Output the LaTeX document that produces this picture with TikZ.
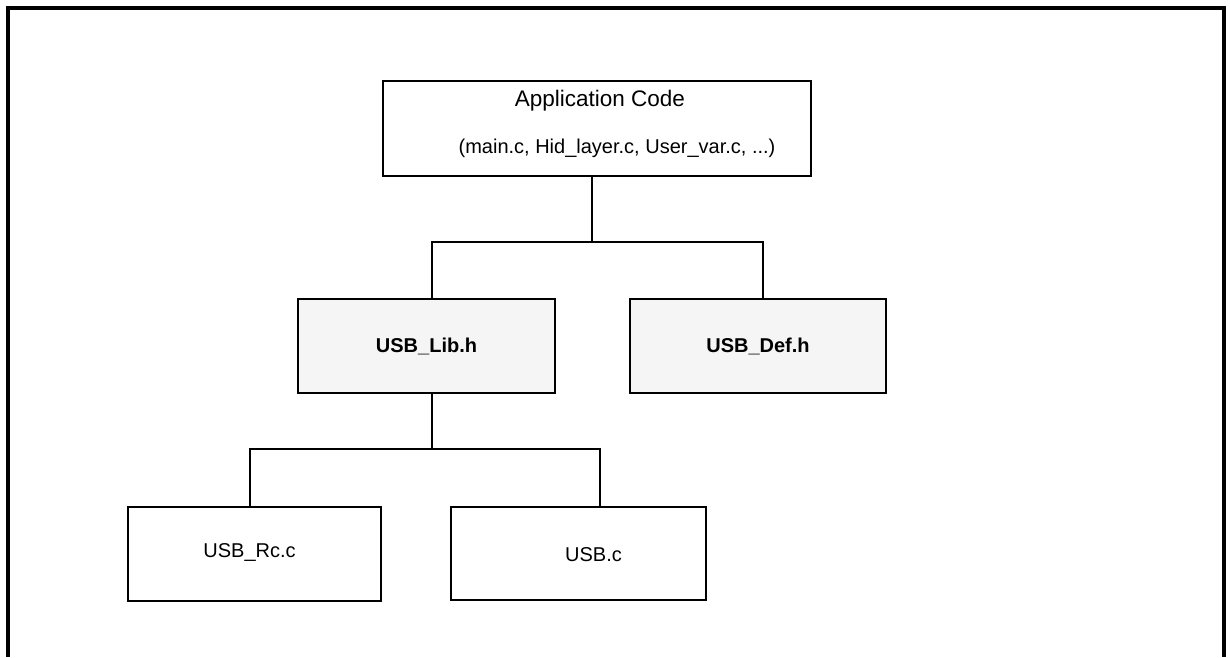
\documentclass[tikz,border=0pt]{standalone}
\usepackage{fontspec}
\setmainfont{Liberation Sans}
\begin{document}
\begin{tikzpicture}[x=1pt,y=-1pt,
  box/.style={draw=black,line width=1.8pt,inner sep=0pt,outer sep=0pt,fill=white},
  hbox/.style={box,fill=boxgray},
  txt/.style={inner sep=0pt,font=\fontsize{20}{24}\selectfont},
  btxt/.style={txt,font=\fontsize{20}{24}\selectfont\bfseries},
  wire/.style={draw=black,line width=1.8pt}]
\definecolor{boxgray}{HTML}{F5F5F5}
\useasboundingbox (0,0) rectangle (1230,657);
\draw[line width=4pt] (8,657) -- (8,8) -- (1224,8) -- (1224,657);
% boxes
\node[box,minimum width=428pt,minimum height=95pt] (app) at (597,128.5) {};
\node[txt,font=\fontsize{22.5}{26}\selectfont] (appt) at (600,101) {Application Code};
\node[txt] (apps) at (617,148) {(main.c, Hid\_layer.c, User\_var.c, ...)};
\node[hbox,minimum width=257pt,minimum height=94pt] (lib) at (426.5,346) {};
\node[btxt] (libt) at (lib.center) {USB\_Lib.h};
\node[hbox,minimum width=256pt,minimum height=94pt] (def) at (758,346) {};
\node[btxt] (deft) at (def.center) {USB\_Def.h};
\node[box,minimum width=253pt,minimum height=94pt] (rc) at (254.5,554) {};
\node[txt] (rct) at (249.5,552) {USB\_Rc.c};
\node[box,minimum width=255pt,minimum height=93pt] (usbc) at (578.5,553.5) {};
\node[txt] (usbct) at (593.5,555) {USB.c};
% connectors
\coordinate (j1) at (592,242);
\coordinate (hL) at (432,242);
\coordinate (hR) at (763,242);
\draw[wire] (j1 |- app.south) -- (j1);
\draw[wire] (hL |- lib.north) -- (hL) -- (hR) -- (hR |- def.north);
\coordinate (j2) at (432,449);
\coordinate (gL) at (250,449);
\coordinate (gR) at (600,449);
\draw[wire] (j2 |- lib.south) -- (j2);
\draw[wire] (gL |- rc.north) -- (gL) -- (gR) -- (gR |- usbc.north);
\end{tikzpicture}
\end{document}
